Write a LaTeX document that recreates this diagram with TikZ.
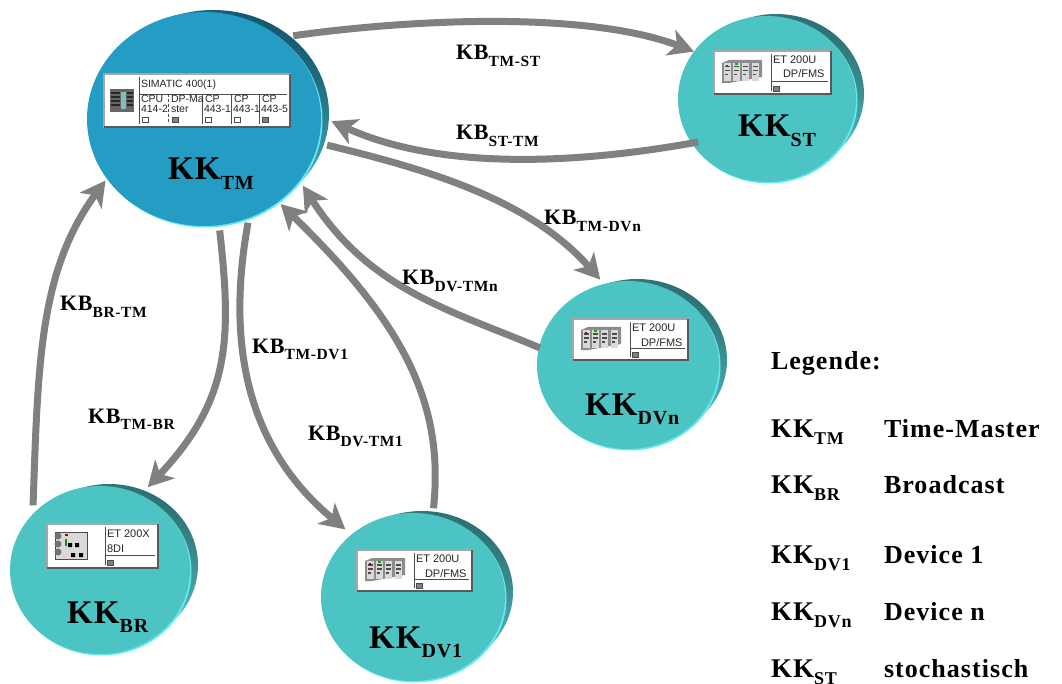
\documentclass[tikz,border=0pt]{standalone}
\usepackage{fontspec}
\setmainfont{Liberation Serif}[LetterSpace=4]
\newfontfamily\uisans{Liberation Sans}
\usetikzlibrary{shapes.geometric,arrows.meta,calc}
\definecolor{tmblue}{HTML}{259CC3}
\definecolor{tmdark}{HTML}{14566F}
\definecolor{tealf}{HTML}{4DC4C4}
\definecolor{teald}{HTML}{2C6F72}
\definecolor{glow}{HTML}{66E9EE}
\definecolor{flowgray}{HTML}{808080}
\newcommand{\subtxt}[4]{{\fontsize{#3}{#3}\selectfont\bfseries #1\raisebox{-0.28em}{\fontsize{#4}{#4}\selectfont #2}}}
\newcommand{\kb}[2]{\subtxt{#1}{#2}{22}{15.5}}
\newcommand{\kkb}[2]{\subtxt{#1}{#2}{33}{20}}
\newcommand{\kkl}[2]{\subtxt{#1}{#2}{27}{18}}
\newcommand{\lgd}[1]{{\fontsize{26}{26}\selectfont\bfseries #1}}
% 3D disk: back crescent + glow + front
\newcommand{\disk}[8]{% name,cx,cy,a,b,front,dark,mid
  \shade[top color=#7,middle color=#8,bottom color=glow,shading angle=-25]
     (#2+9,#3-5) ellipse ({#4-1} and {#5-3});
  \fill[glow] (#2+1.5,#3+1.5) ellipse (#4 and #5);
  \node[diskfront,fill=#6,minimum width=2*#4 pt,minimum height=2*#5 pt] (#1) at (#2,#3) {};
}
% device box
\newcommand{\unitbox}[7]{% name,x,y,w,h,div,line
  \node[unitframe,minimum width=#4 pt,minimum height=#5 pt,anchor=north west] (#1) at (#2,#3) {};
  \draw[unitline] ([shift={(#6,3)}]#1.north west) -- ([shift={(#6,#5-3)}]#1.north west);
  \draw[unitline] ([shift={(#6,#7)}]#1.north west) -- ([shift={(#4-3,#7)}]#1.north west);
  \draw[black!65,line width=1.2pt] (#1.south west) -- (#1.south east) -- (#1.north east);
}
\newcommand{\ledbox}[3]{\draw[black!70,fill=#3,line width=.6pt] (#1,#2) rectangle ++(6,-5);}
\newcommand{\rack}[2]{%
  \begin{scope}[shift={(#1,#2)}]
    \fill[black!45] (0,3) -- (7,0) -- (40,0) -- (40,17) -- (7,23) -- (0,23) -- cycle;
    \foreach \m in {2,11,20,30}{
      \fill[black!15] (\m,3) rectangle ++(7,18);
      \fill[black!70] (\m+1,6) rectangle ++(5,1.5);
      \fill[black!70] (\m+1,10) rectangle ++(5,1.5);
      \fill[black!70] (\m+1,14) rectangle ++(3,1.5);}
    \fill[red!70!black] (4,5) rectangle ++(2,1.5);
    \fill[green!70!black] (13,3) rectangle ++(3,2);
  \end{scope}}
\tikzset{
  x=1pt,y=-1pt,
  diskfront/.style={ellipse,draw=none,inner sep=0pt,outer sep=0pt},
  unitframe/.style={rectangle,fill=white,draw=black!35,line width=2pt,inner sep=0pt,outer sep=0pt},
  unitline/.style={black!70,line width=.9pt},
  flow/.style={draw=flowgray,line width=7pt,-{Stealth[length=25pt,width=27pt,inset=7pt]}},
  lab/.style={anchor=base west,inner sep=0pt,outer sep=0pt,text=black},
  ui/.style={anchor=base west,inner sep=0pt,outer sep=0pt,text=black!85,font=\uisans\fontsize{10.5}{10.5}\selectfont},
}
\begin{document}
\begin{tikzpicture}
\useasboundingbox (0,0) rectangle (1062,684);
\disk{tm}{204}{119}{117}{107}{tmblue}{tmdark}{tmblue!80!black}
\disk{st}{767}{99}{89}{83}{tealf}{teald}{tealf!80!black}
\disk{br}{100}{570}{90}{84}{tealf}{teald}{tealf!80!black}
\disk{dva}{413}{597}{92}{84}{tealf}{teald}{tealf!80!black}
\disk{dvn}{628}{365}{91}{84}{tealf}{teald}{tealf!80!black}

% connectors
\draw[flow] ($(tm)!1.09!(tm.43)$) .. controls (420,18) and (590,12) .. ($(st)!1!(st.147)$);
\draw[flow] ($(st)!.93!(st.212)$) .. controls (600,160) and (450,175) .. ($(tm)!1.09!(tm.-1)$);
\draw[flow] ($(tm)!1.08!(tm.-12)$) .. controls (430,170) and (530,200) .. ($(dvn)!1.06!(dvn.108)$);
\draw[flow] ($(dvn)!.99!(dvn.169)$) .. controls (450,310) and (370,290) .. ($(tm)!1.05!(tm.-34)$);
\draw[flow] ($(br)!1.07!(br.136)$) .. controls (38,360) and (40,270) .. ($(tm)!1.02!(tm.212)$);
\draw[flow] ($(tm)!1.05!(tm.-82)$) .. controls (232,340) and (230,400) .. ($(br)!1.12!(br.60)$);
\draw[flow] ($(tm)!1.04!(tm.-67)$) .. controls (225,350) and (250,450) .. ($(dva)!1.09!(dva.135)$);
\draw[flow] ($(dva)!1.08!(dva.77)$) .. controls (445,400) and (400,320) .. ($(tm)!1.03!(tm.-48)$);

% SIMATIC box
\unitbox{bxtm}{104}{74}{186}{53}{35}{20}
\draw[unitline,densely dashed] (168,94) -- (168,124);
\draw[unitline] (202,94) -- (202,124);
\draw[unitline] (231,94) -- (231,124);
\draw[unitline] (259,94) -- (259,124);
\node[ui] (t0) at (141,88) {SIMATIC 400(1)};
\node[ui] (t1) at (141,103) {CPU};
\node[ui] (t2) at (141,113) {414-2};
\node[ui] (t3) at (171,103) {DP-Ma};
\node[ui] (t4) at (171,113) {ster};
\node[ui] (t5) at (205,103) {CP};
\node[ui] (t6) at (204,113) {443-1};
\node[ui] (t7) at (234,103) {CP};
\node[ui] (t8) at (233,113) {443-1};
\node[ui] (t9) at (262,103) {CP};
\node[ui] (t10) at (261,113) {443-5};
\ledbox{142}{122}{white}\ledbox{172}{122}{black!50}\ledbox{205}{122}{white}\ledbox{234}{122}{white}\ledbox{262}{122}{black!50}
\begin{scope}[shift={(110,89)}]
  \fill[black!60] (0,0) rectangle (24,23);
  \foreach \yy in {3,7,11,15}{\fill[black!85] (1,\yy) rectangle ++(9,2);\fill[black!85] (17,\yy) rectangle ++(6,2);}
  \fill[teal!50] (11,3) rectangle (16,20);
\end{scope}

% ET200U ST
\unitbox{bxst}{714}{51}{117}{43}{57}{30}
\node[ui] (u1) at (773,64) {\fontsize{11}{11}\selectfont ET 200U};
\node[ui] (u2) at (783,78) {\fontsize{11}{11}\selectfont DP/FMS};
\ledbox{773}{91}{black!50}
\rack{722}{60}
% ET200X BR
\unitbox{bxbr}{47}{524}{111}{44}{58}{31}
\node[ui] (x1) at (107,537) {\fontsize{11}{11}\selectfont ET 200X};
\node[ui] (x2) at (107,552) {\fontsize{11}{11}\selectfont 8DI};
\ledbox{107}{565}{black!50}
\begin{scope}[shift={(55,531)}]
  \fill[black!15] (0,1) rectangle (32,28);
  \draw[black!70,line width=.8pt] (0,1) rectangle (32,28);
  \foreach \yy in {5,13,21}{\fill[black!55] (3,\yy) circle (3.5);}
  \fill[green!60!black] (10,8) rectangle ++(2,7);
  \fill[red!70!black] (10,3) rectangle ++(3,2);
  \foreach \xx/\yy in {13,12,20,12,16,22,24,22}{}
  \fill[black] (13,12) rectangle ++(4,4) (20,12) rectangle ++(4,4) (16,22) rectangle ++(4,4) (24,22) rectangle ++(4,4);
\end{scope}
% ET200U DV1
\unitbox{bxdva}{357}{550}{115}{41}{57}{29}
\node[ui] (v1) at (416,562) {\fontsize{11}{11}\selectfont ET 200U};
\node[ui] (v2) at (425,577) {\fontsize{11}{11}\selectfont DP/FMS};
\ledbox{416}{588}{black!50}
\rack{365}{558}
% ET200U DVn
\unitbox{bxdvn}{573}{319}{115}{41}{57}{29}
\node[ui] (w1) at (632,331) {\fontsize{11}{11}\selectfont ET 200U};
\node[ui] (w2) at (641,346) {\fontsize{11}{11}\selectfont DP/FMS};
\ledbox{632}{357}{black!50}
\rack{581}{327}

% disk captions
\node[lab] (ka) at (168,180) {\kkb{KK}{TM}};
\node[lab] (kb) at (738,137) {\kkb{KK}{ST}};
\node[lab] (kc) at (67,623) {\kkb{KK}{BR}};
\node[lab] (kd) at (369,648) {\kkb{KK}{DV1}};
\node[lab] (ke) at (585,415) {\kkb{KK}{DVn}};

% connector labels
\node[lab] (l1) at (456,60) {\kb{KB}{TM-ST}};
\node[lab] (l2) at (456,140) {\kb{KB}{ST-TM}};
\node[lab] (l3) at (544,225) {\kb{KB}{TM-DVn}};
\node[lab] (l4) at (402,285) {\kb{KB}{DV-TMn}};
\node[lab] (l5) at (60,311) {\kb{KB}{BR-TM}};
\node[lab] (l6) at (88,423) {\kb{KB}{TM-BR}};
\node[lab] (l7) at (252,353) {\kb{KB}{TM-DV1}};
\node[lab] (l8) at (308,440) {\kb{KB}{DV-TM1}};

% legend
\node[lab] (g0) at (771,369) {\lgd{Legende:}};
\node[lab] (g1) at (771,437) {\kkl{KK}{TM}};
\node[lab] (g1t) at (884,437) {\lgd{Time-Master}};
\node[lab] (g2) at (771,493) {\kkl{KK}{BR}};
\node[lab] (g2t) at (884,493) {\lgd{Broadcast}};
\node[lab] (g3) at (771,563) {\kkl{KK}{DV1}};
\node[lab] (g3t) at (884,563) {\lgd{Device 1}};
\node[lab] (g4) at (771,620) {\kkl{KK}{DVn}};
\node[lab] (g4t) at (884,620) {\lgd{Device n}};
\node[lab] (g5) at (771,677) {\kkl{KK}{ST}};
\node[lab] (g5t) at (884,677) {\lgd{stochastisch}};
\end{tikzpicture}
\end{document}
